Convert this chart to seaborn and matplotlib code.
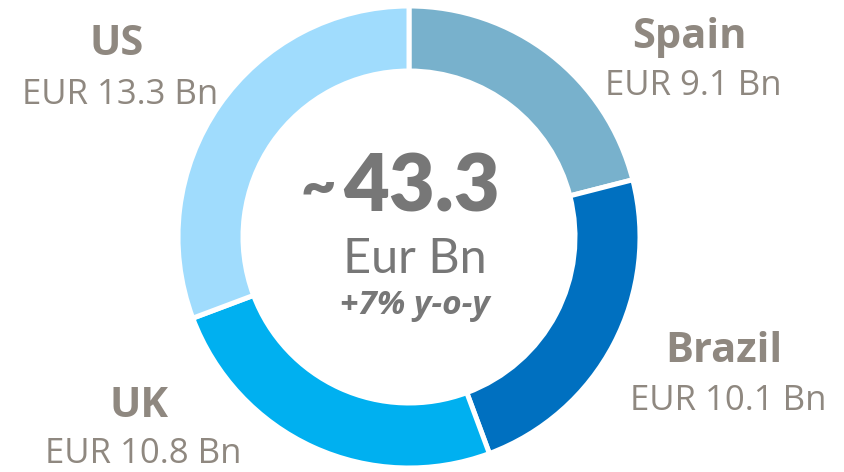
import matplotlib
matplotlib.use("Agg")
import matplotlib.pyplot as plt
import seaborn as sns

countries = ["Spain", "Brazil", "UK", "US"]
values = [9.1, 10.1, 10.8, 13.3]
value_labels = ["EUR 9.1 Bn", "EUR 10.1 Bn", "EUR 10.8 Bn", "EUR 13.3 Bn"]
colors = ["#78b1cc", "#0070c0", "#00b0f0", "#a0dcfd"]
total_label = "43.3"
unit_label = "Eur Bn"
growth_label = "+7% y-o-y"

sns.set_theme(style="white")
plt.rcParams['font.family'] = ['Lato', 'DejaVu Sans']

W, H = 844, 472
fig = plt.figure(figsize=(W / 100, H / 100), dpi=100)
ax = fig.add_axes([0, 0, 1, 1])

cx, cy = 409, H - 237
ax.pie(values, colors=sns.color_palette(colors), startangle=90, counterclock=False,
       radius=231, center=(cx, cy),
       wedgeprops=dict(width=65, edgecolor="white", linewidth=3.6))
ax.set_xlim(0, W)
ax.set_ylim(0, H)
ax.set_aspect("equal")
ax.axis("off")

lab_col = "#8f8880"
lab_font = ['Open Sans', 'DejaVu Sans']
# label anchor positions (pixel coords from top, baselines)
pos = {
    "Spain": ((689, 48), (693, 95)),
    "Brazil": ((724, 362), (728, 410)),
    "UK": ((139, 417), (143, 463)),
    "US": ((117, 55), (120, 104)),
}
for c, vl in zip(countries, value_labels):
    (nx, ny), (vx, vy) = pos[c]
    ax.text(nx, H - ny, c, ha="center", va="baseline", fontsize=30, fontweight="bold",
            color=lab_col, family=lab_font)
    ax.text(vx, H - vy, vl, ha="center", va="baseline", fontsize=25, color=lab_col,
            family=lab_font)

cen_col = "#777777"
ax.text(318, H - 188, "~", ha="center", va="center", fontsize=44, fontweight="heavy", color=cen_col)
ax.text(422, H - 212, total_label, ha="center", va="baseline", fontsize=57, fontweight="heavy", color=cen_col)
ax.text(415, H - 273, unit_label, ha="center", va="baseline", fontsize=35, color=cen_col)
ax.text(415, H - 314, growth_label, ha="center", va="baseline", fontsize=24, fontweight="bold",
        fontstyle="italic", color=cen_col, family=lab_font)

fig.savefig("out.png", dpi=100)
